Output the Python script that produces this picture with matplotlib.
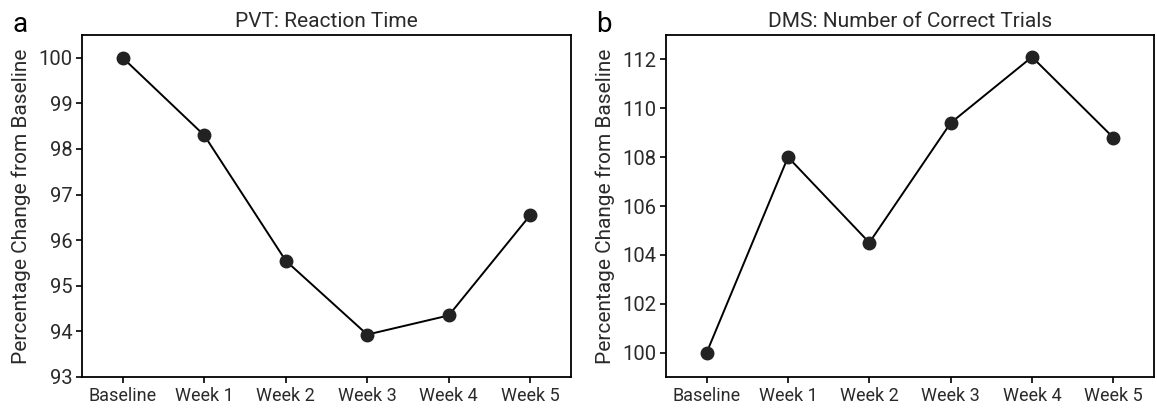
import matplotlib
matplotlib.use("Agg")
import matplotlib.pyplot as plt

plt.rcParams['font.family'] = ['Roboto', 'DejaVu Sans']
plt.rcParams['font.weight'] = 'normal'

weeks = ["Baseline", "Week 1", "Week 2", "Week 3", "Week 4", "Week 5"]
pvt_rt = [100.0, 98.3, 95.55, 93.93, 94.35, 96.55]
dms_correct = [100.0, 108.0, 104.5, 109.4, 112.1, 108.8]

W, H = 1157, 409
fig = plt.figure(figsize=(W / 100, H / 100), dpi=100)

# axes boxes in pixels: left, right, top, bottom
boxes = [(82, 571, 35, 377), (666, 1154, 35, 377)]
panels = [
    ("a", "PVT: Reaction Time", pvt_rt, (93, 100.5), range(93, 101)),
    ("b", "DMS: Number of Correct Trials", dms_correct, (99, 113), range(100, 113, 2)),
]

txt = '#2a2a2a'
for (l, r, t, b), (letter, title, vals, ylim, yt) in zip(boxes, panels):
    ax = fig.add_axes([l / W, 1 - b / H, (r - l) / W, (b - t) / H])
    x = list(range(len(weeks)))
    ax.plot(x, vals, color='black', lw=1.4, zorder=2)
    ax.plot(x, vals, 'o', color='#222222', ms=9, zorder=3)
    ax.set_xlim(-0.5, len(weeks) - 0.5)
    ax.set_ylim(*ylim)
    ax.set_xticks(x)
    ax.set_xticklabels(weeks, fontsize=13)
    ax.set_yticks(list(yt))
    ax.tick_params(axis='y', labelsize=14.5)
    ax.tick_params(length=4, width=1.2, colors='black', labelcolor=txt, pad=3)
    for s in ax.spines.values():
        s.set_linewidth(1.3)
    ax.set_title(title, fontsize=15, color=txt, pad=6)
    ax.set_ylabel("Percentage Change from Baseline", fontsize=15, color=txt, labelpad=5)
    fig.text((l - 70) / W, 1 - 24 / H, letter, fontsize=20, color='black',
             ha='left', va='center')

fig.savefig("out.png", dpi=100)
